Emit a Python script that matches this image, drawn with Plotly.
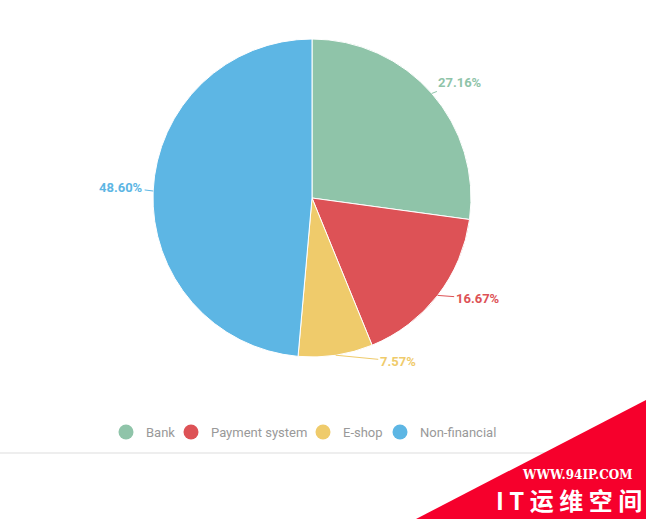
import math
import plotly.graph_objects as go

categories = ["Bank", "Payment system", "E-shop", "Non-financial"]
shares = [27.16, 16.67, 7.57, 48.60]
colors = ["#8fc4a9", "#dd5256", "#efcb6b", "#5db6e4"]

W, H = 646, 519
# pie geometry in pixels (center and radius)
CX, CY, R = 312, 198, 159
# where each percentage label sits relative to its slice edge (pixels)
label_dx = [28, 40, 62, -32]
label_dy = [-11, 3, 6, -4]

fig = go.Figure()

fig.add_trace(go.Pie(
    labels=categories,
    values=shares,
    sort=False,
    direction="clockwise",
    rotation=0,
    marker=dict(colors=colors, line=dict(color="white", width=1)),
    textinfo="none",
    domain=dict(x=[(CX - R) / W, (CX + R) / W], y=[1 - (CY + R) / H, 1 - (CY - R) / H]),
    showlegend=False,
    hoverinfo="label+percent",
))

# percentage labels with connector lines, anchored on the middle of each slice edge
total = sum(shares)
annotations = []
cum = 0
for v, c, dx, dy in zip(shares, colors, label_dx, label_dy):
    mid = (cum + v / 2) / total * 2 * math.pi
    cum += v
    px = CX + R * math.sin(mid)
    py = CY - R * math.cos(mid)
    annotations.append(dict(
        text="%.2f%%" % (v / total * 100), xref="paper", yref="paper",
        x=px / W, y=1 - py / H, ax=dx, ay=dy,
        showarrow=True, arrowhead=0, arrowwidth=1, arrowcolor=c, standoff=0,
        font=dict(family="Roboto", size=13, color=c, weight="bold"),
    ))

# legend: one small legend per category so the spacing can follow the original
legend_x = [116, 181, 313, 390]
legend_names = ["legend", "legend2", "legend3", "legend4"]
for name, c, lg in zip(categories, colors, legend_names):
    fig.add_trace(go.Scatter(
        x=[None], y=[None], mode="markers", name=name, legend=lg,
        marker=dict(color=c, size=15, symbol="circle"),
    ))

legend_style = dict(orientation="h", yanchor="middle", y=1 - 432 / H, xanchor="left",
                    font=dict(size=13, color="#999999", family="Roboto"),
                    itemwidth=30, bgcolor="rgba(0,0,0,0)")
legends = {}
for lg, lx in zip(legend_names, legend_x):
    legends[lg] = dict(legend_style, x=(lx - 10) / W)

annotations += [
    dict(text="<b>WWW.94IP.COM</b>", xref="paper", yref="paper", x=577 / W, y=1 - 475 / H,
         xanchor="center", yanchor="middle", showarrow=False,
         font=dict(family="DejaVu Serif", size=12, color="white")),
    dict(text="<b>I T 运 维 空 间</b>", xref="paper", yref="paper", x=569 / W, y=1 - 499 / H,
         xanchor="center", yanchor="middle", showarrow=False,
         font=dict(family="Noto Sans CJK SC", size=24, color="white")),
]

fig.update_layout(
    width=W, height=H,
    margin=dict(l=0, r=0, t=0, b=0),
    paper_bgcolor="white", plot_bgcolor="white",
    font=dict(family="Roboto", color="#999999", size=13),
    xaxis=dict(visible=False), yaxis=dict(visible=False),
    shapes=[
        dict(type="line", xref="paper", yref="paper", x0=0, x1=1, y0=1 - 453 / H, y1=1 - 453 / H,
             line=dict(color="#dddddd", width=1)),
        dict(type="path", xref="paper", yref="paper",
             path="M %f 0 L 1 %f L 1 0 Z" % (416 / W, 1 - 400 / H),
             fillcolor="#f6002c", line=dict(width=0)),
    ],
    annotations=annotations,
    **legends,
)

fig.write_html("out.html", config={"displayModeBar": False},
               post_script="document.body.style.margin='0';")
